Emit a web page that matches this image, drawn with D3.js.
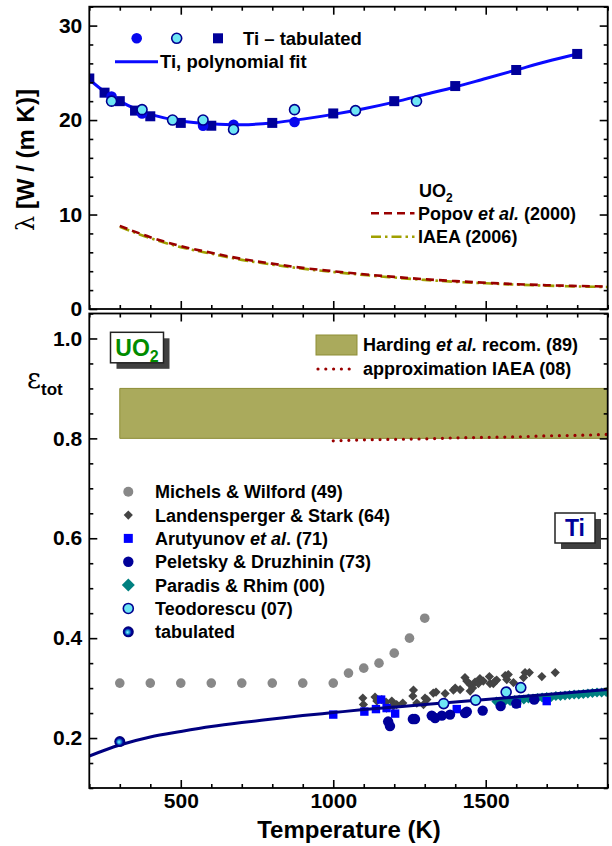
<!DOCTYPE html>
<html><head><meta charset="utf-8">
<script src="https://cdn.jsdelivr.net/npm/d3@7"></script>
<style>
body{margin:0;background:#fff}
svg{display:block}
text{font-family:"Liberation Sans",Arial,sans-serif;font-weight:bold;fill:#000}
</style>
</head><body>
<svg id="c" width="612" height="846"></svg>
<script>
// ---------- thermal conductivity panel ----------
const tiSqT   = [200,250,300,350,400,500,600,800,1000,1200,1400,1600,1800];
const tiSqLam = [24.4,22.9,22.0,21.0,20.4,19.7,19.4,19.7,20.7,22.0,23.6,25.3,27.0];
const tiFcT   = [273,373,573,673,873];
const tiFcLam = [22.5,20.7,19.4,19.5,19.8];
const tiOcT   = [273,373,473,573,673,873,1073,1273];
const tiOcLam = [22.0,21.1,20.0,20.0,19.0,21.1,21.0,22.0];
const tiFitT   = [200,250,300,350,400,500,600,700,800,900,1000,1100,1200,1300,1400,1500,1600,1700,1800];
const tiFitLam = [24.3,23.0,22.0,21.2,20.6,19.9,19.6,19.5,19.7,20.1,20.6,21.2,21.9,22.7,23.5,24.4,25.3,26.2,27.0];
const uo2T     = [300,400,500,600,700,800,900,1000,1100,1200,1300,1400,1500,1600,1700,1800,1900];
const popovLam = [8.8,7.6,6.65,5.95,5.3,4.8,4.35,4.0,3.68,3.4,3.15,2.95,2.78,2.63,2.52,2.44,2.38];
const iaeaLam  = [8.7,7.5,6.55,5.85,5.2,4.7,4.27,3.92,3.6,3.33,3.08,2.88,2.72,2.58,2.47,2.39,2.33];

// ---------- emissivity panel ----------
const hardT = [300,1900], hardLo = [0.8,0.8], hardHi = [0.9,0.9];
const iaeaEpsT = [1000,1100,1200,1300,1400,1500,1600,1700,1800,1900];
const iaeaEps  = [0.795,0.797,0.798,0.799,0.801,0.802,0.803,0.805,0.806,0.808];
const michT = [300,400,500,600,700,800,900,1000,1050,1100,1150,1200,1250,1300];
const michE = [0.31,0.31,0.31,0.31,0.31,0.31,0.31,0.31,0.33,0.34,0.35,0.37,0.40,0.44];
const landT = [1097,1099,1137,1143,1159,1173,1175,1192,1197,1208,1228,1261,1263,1274,1296,1301,1307,1328,1337,1367,1394,1400,1416,1432,1438,1449,1449,1457,1465,1476,1481,1492,1512,1514,1525,1531,1536,1564,1569,1574,1591,1624,1629,1643,1684,1728];
const landE = [0.280,0.267,0.282,0.274,0.277,0.272,0.260,0.274,0.264,0.267,0.270,0.284,0.296,0.270,0.267,0.280,0.277,0.290,0.292,0.289,0.296,0.300,0.297,0.321,0.314,0.307,0.294,0.300,0.312,0.309,0.319,0.314,0.323,0.309,0.309,0.314,0.316,0.325,0.317,0.327,0.311,0.321,0.331,0.331,0.323,0.331];
const aruT = [1000,1102,1140,1157,1175,1203,1405,1602,1700];
const aruE = [0.247,0.253,0.258,0.277,0.260,0.249,0.258,0.269,0.274];
const pelT = [1180,1186,1261,1268,1323,1334,1356,1383,1432,1438,1490,1549,1600,1659];
const pelE = [0.233,0.224,0.238,0.238,0.245,0.240,0.245,0.247,0.250,0.253,0.255,0.264,0.269,0.277];
const parT = [1535,1550,1565,1580,1595,1610,1625,1640,1655,1670,1685,1700,1715,1730,1745,1760,1775,1790,1805,1820,1835,1850,1865,1880,1895];
const parE = [0.273,0.272,0.275,0.274,0.276,0.277,0.277,0.279,0.279,0.280,0.281,0.282,0.282,0.284,0.284,0.285,0.286,0.287,0.287,0.288,0.289,0.290,0.291,0.291,0.292];
const teoT = [1362,1467,1567,1615];
const teoE = [0.269,0.276,0.292,0.301];
const tabT = [300], tabE = [0.193];
const fitEpsT = [200,300,400,500,600,700,800,900,1000,1100,1200,1300,1400,1500,1600,1700,1800,1900];
const fitEps  = [0.164,0.186,0.202,0.213,0.223,0.231,0.238,0.245,0.251,0.257,0.262,0.267,0.272,0.277,0.282,0.287,0.292,0.297];

const xTicksMajor = [500,1000,1500];
const xTicksMinor = [200,300,400,600,700,800,900,1100,1200,1300,1400,1600,1700,1800,1900];
const lamMajor = [0,10,20,30], lamMinor = [2,4,6,8,12,14,16,18,22,24,26,28,32];
const epsMajor = [0.2,0.4,0.6,0.8,1.0], epsMinor = [0.1,0.15,0.25,0.3,0.35,0.45,0.5,0.55,0.65,0.7,0.75,0.85,0.9,0.95,1.05];

const svg = d3.select("#c");
const defs = svg.append("defs");

const x = d3.scaleLinear([200,1900],[89.3,607.7]);
const yT = d3.scaleLinear([0,32],[309,6.7]);
const yB = d3.scaleLinear([0.1,1.05],[788,313.5]);
const L = x.range()[0], R = x.range()[1];

function clip(id, y){
  defs.append("clipPath").attr("id",id).append("rect")
    .attr("x",L).attr("y",y.range()[1]).attr("width",R-L).attr("height",y.range()[0]-y.range()[1]);
}
clip("clipT", yT); clip("clipB", yB);

const grad = defs.append("radialGradient").attr("id","sph").attr("cx","0.5").attr("cy","0.5").attr("r","0.55").attr("fx","0.42").attr("fy","0.55");
grad.append("stop").attr("offset","0").attr("stop-color","#8ff4ff");
grad.append("stop").attr("offset","0.3").attr("stop-color","#20a0d8");
grad.append("stop").attr("offset","0.6").attr("stop-color","#00009a");
grad.append("stop").attr("offset","1").attr("stop-color","#000060");

function zip(a,b){ return a.map((v,i)=>[v,b[i]]); }

function axes(y, major, minor, fmt, xLabels){
  const g = svg.append("g");
  const [y0,y1] = y.range();
  const hide = s => s.select(".domain").remove();
  const big = 8, small = 4;
  g.append("g").attr("transform",`translate(${L},0)`).call(d3.axisLeft(y).tickValues(major).tickSize(-big).tickPadding(7).tickFormat(fmt)).call(hide);
  g.append("g").attr("transform",`translate(${L},0)`).call(d3.axisLeft(y).tickValues(minor).tickSize(-small).tickFormat("")).call(hide);
  g.append("g").attr("transform",`translate(${R},0)`).call(d3.axisRight(y).tickValues(major).tickSize(-big).tickFormat("")).call(hide);
  g.append("g").attr("transform",`translate(${R},0)`).call(d3.axisRight(y).tickValues(minor).tickSize(-small).tickFormat("")).call(hide);
  g.append("g").attr("transform",`translate(0,${y1})`).call(d3.axisTop(x).tickValues(xTicksMajor).tickSize(-big).tickFormat("")).call(hide);
  g.append("g").attr("transform",`translate(0,${y1})`).call(d3.axisTop(x).tickValues(xTicksMinor).tickSize(-small).tickFormat("")).call(hide);
  g.append("g").attr("transform",`translate(0,${y0})`).call(d3.axisBottom(x).tickValues(xTicksMajor).tickSize(-big).tickPadding(5).tickFormat(xLabels ? d3.format("d") : "")).call(hide);
  g.append("g").attr("transform",`translate(0,${y0})`).call(d3.axisBottom(x).tickValues(xTicksMinor).tickSize(-small).tickFormat("")).call(hide);
  g.selectAll("line").attr("stroke","#000").attr("stroke-width",1.6);
  g.selectAll("text").attr("font-size",21).attr("font-family","Liberation Sans, Arial, sans-serif").attr("font-weight","bold").attr("fill","#000");
  svg.append("rect").attr("x",L).attr("y",y1).attr("width",R-L).attr("height",y0-y1)
    .attr("fill","none").attr("stroke","#000").attr("stroke-width",1.8);
}

// ===== top panel: thermal conductivity =====
const gT = svg.append("g").attr("clip-path","url(#clipT)");
const lineT = d3.line().x(d=>x(d[0])).y(d=>yT(d[1])).curve(d3.curveMonotoneX);
gT.append("path").datum(zip(uo2T,iaeaLam)).attr("d",lineT).attr("fill","none")
  .attr("stroke","#a0a000").attr("stroke-width",2.6).attr("stroke-dasharray","10,4,2.5,4");
gT.append("path").datum(zip(uo2T,popovLam)).attr("d",lineT).attr("fill","none")
  .attr("stroke","#990000").attr("stroke-width",2.6).attr("stroke-dasharray","8,5");
gT.append("path").datum(zip(tiFitT,tiFitLam)).attr("d",lineT.curve(d3.curveCatmullRom)).attr("fill","none")
  .attr("stroke","#0a0aff").attr("stroke-width",3);
gT.selectAll(".sq").data(zip(tiSqT,tiSqLam)).join("rect")
  .attr("x",d=>x(d[0])-5).attr("y",d=>yT(d[1])-5).attr("width",10).attr("height",10).attr("fill","#000099");
gT.selectAll(".fc").data(zip(tiFcT,tiFcLam)).join("circle")
  .attr("cx",d=>x(d[0])).attr("cy",d=>yT(d[1])).attr("r",5.3).attr("fill","#0808ee");
gT.selectAll(".oc").data(zip(tiOcT,tiOcLam)).join("circle")
  .attr("cx",d=>x(d[0])).attr("cy",d=>yT(d[1])).attr("r",5).attr("fill","#6ee6f4").attr("stroke","#000090").attr("stroke-width",1.6);

axes(yT, lamMajor, lamMinor, d3.format("d"), false);

// top legend
svg.append("circle").attr("cx",136.7).attr("cy",38.3).attr("r",5.3).attr("fill","#0808ee");
svg.append("circle").attr("cx",176.7).attr("cy",38.3).attr("r",5).attr("fill","#6ee6f4").attr("stroke","#000090").attr("stroke-width",1.6);
svg.append("rect").attr("x",213).attr("y",33.3).attr("width",10).attr("height",10).attr("fill","#000099");
svg.append("text").attr("x",243).attr("y",45).attr("font-size",18.5).text("Ti \u2013 tabulated");
svg.append("line").attr("x1",115).attr("x2",158).attr("y1",61.7).attr("y2",61.7).attr("stroke","#0a0aff").attr("stroke-width",3);
svg.append("text").attr("x",160).attr("y",68.3).attr("font-size",18.5).text("Ti, polynomial fit");

const uo2Leg = svg.append("text").attr("x",419).attr("y",197).attr("font-size",18);
uo2Leg.append("tspan").text("UO");
uo2Leg.append("tspan").attr("font-size",12).attr("dy",5).text("2");
svg.append("line").attr("x1",371).attr("x2",414.5).attr("y1",213.3).attr("y2",213.3).attr("stroke","#990000").attr("stroke-width",2.6).attr("stroke-dasharray","8,5");
const pop = svg.append("text").attr("x",418).attr("y",219.5).attr("font-size",18);
pop.append("tspan").text("Popov ");
pop.append("tspan").attr("font-style","italic").text("et al.");
pop.append("tspan").text(" (2000)");
svg.append("line").attr("x1",371).attr("x2",414.5).attr("y1",236.7).attr("y2",236.7).attr("stroke","#a0a000").attr("stroke-width",2.6).attr("stroke-dasharray","10,4,2.5,4");
svg.append("text").attr("x",418).attr("y",243).attr("font-size",18).text("IAEA (2006)");

// y label, top
const yl = svg.append("text").attr("transform","translate(34,160) rotate(-90)").attr("text-anchor","middle").attr("font-size",24);
yl.append("tspan").attr("font-family","DejaVu Serif, serif").attr("font-weight","normal").text("\u03bb");
yl.append("tspan").text(" [W / (m K)]");

// ===== bottom panel: total emissivity =====
const gB = svg.append("g").attr("clip-path","url(#clipB)");
const area = d3.area().x(d=>x(d[0])).y0(d=>yB(d[1])).y1(d=>yB(d[2]));
gB.append("path").datum(hardT.map((t,i)=>[t,hardLo[i],hardHi[i]])).attr("d",area)
  .attr("fill","#aaaa5c").attr("stroke","#8d8d35").attr("stroke-width",1);
const lineB = d3.line().x(d=>x(d[0])).y(d=>yB(d[1])).curve(d3.curveMonotoneX);
gB.append("path").datum(zip(iaeaEpsT,iaeaEps)).attr("d",lineB).attr("fill","none")
  .attr("stroke","#990000").attr("stroke-width",3.2).attr("stroke-linecap","round").attr("stroke-dasharray","0,7.8");

gB.selectAll(".mi").data(zip(michT,michE)).join("circle")
  .attr("cx",d=>x(d[0])).attr("cy",d=>yB(d[1])).attr("r",4.8).attr("fill","#888888");
const diamond = (s)=>`M0,${-s}L${s},0L0,${s}L${-s},0Z`;
gB.selectAll(".la").data(zip(landT,landE)).join("path")
  .attr("transform",d=>`translate(${x(d[0])},${yB(d[1])})`).attr("d",diamond(4.6)).attr("fill","#444444");
gB.selectAll(".pa").data(zip(parT,parE)).join("path")
  .attr("transform",d=>`translate(${x(d[0])},${yB(d[1])})`).attr("d",diamond(5)).attr("fill","#008080");
gB.selectAll(".ar").data(zip(aruT,aruE)).join("rect")
  .attr("x",d=>x(d[0])-4.2).attr("y",d=>yB(d[1])-4.2).attr("width",8.4).attr("height",8.4).attr("fill","#0000ff");
gB.selectAll(".pe").data(zip(pelT,pelE)).join("circle")
  .attr("cx",d=>x(d[0])).attr("cy",d=>yB(d[1])).attr("r",5.2).attr("fill","#000099");
gB.append("path").datum(zip(fitEpsT,fitEps)).attr("d",lineB.curve(d3.curveCatmullRom)).attr("fill","none")
  .attr("stroke","#000080").attr("stroke-width",3);
gB.selectAll(".te").data(zip(teoT,teoE)).join("circle")
  .attr("cx",d=>x(d[0])).attr("cy",d=>yB(d[1])).attr("r",5).attr("fill","#6ee6f4").attr("stroke","#000090").attr("stroke-width",1.6);
gB.selectAll(".tb").data(zip(tabT,tabE)).join("circle")
  .attr("cx",d=>x(d[0])).attr("cy",d=>yB(d[1])).attr("r",5.5).attr("fill","url(#sph)");

axes(yB, epsMajor, epsMinor, d3.format(".1f"), true);

// x label
svg.append("text").attr("x",349).attr("y",838).attr("text-anchor","middle").attr("font-size",24).text("Temperature (K)");

// y label, bottom
const el = svg.append("text").attr("x",27).attr("y",388).attr("font-size",27);
el.append("tspan").attr("font-family","DejaVu Serif, serif").attr("font-weight","normal").text("\u03b5");
el.append("tspan").attr("font-size",17).attr("dy",7).text("tot");

// material tags
function tag(x0,y0,w,h,label,sub,color){
  svg.append("rect").attr("x",x0+6).attr("y",y0+6).attr("width",w).attr("height",h).attr("fill","#404040");
  svg.append("rect").attr("x",x0).attr("y",y0).attr("width",w).attr("height",h).attr("fill","#fff").attr("stroke","#222").attr("stroke-width",1.5);
  const t = svg.append("text").attr("x",x0+w/2).attr("y",y0+h/2+8).attr("text-anchor","middle").attr("font-size",23).style("fill",color);
  t.append("tspan").text(label);
  if(sub) t.append("tspan").attr("font-size",16).attr("dy",6).text(sub);
}
tag(110.5,332.3,53,30.5,"UO","2","#008c00");
tag(555,513,40,30,"Ti",null,"#000099");

// bottom legends
svg.append("rect").attr("x",316).attr("y",335).attr("width",41).attr("height",20).attr("fill","#aaaa5c").attr("stroke","#8d8d35");
const hd = svg.append("text").attr("x",363).attr("y",351).attr("font-size",18);
hd.append("tspan").text("Harding ");
hd.append("tspan").attr("font-style","italic").text("et al.");
hd.append("tspan").text(" recom. (89)");
svg.append("line").attr("x1",318).attr("x2",357).attr("y1",369).attr("y2",369)
  .attr("stroke","#990000").attr("stroke-width",3.2).attr("stroke-linecap","round").attr("stroke-dasharray","0,7.8");
svg.append("text").attr("x",363).attr("y",375).attr("font-size",18).text("approximation IAEA (08)");

const lx = 128.3, ly0 = 491.7, ldy = 23.35;
const leg = svg.append("g");
leg.append("circle").attr("cx",lx).attr("cy",ly0).attr("r",5).attr("fill","#888888");
leg.append("path").attr("transform",`translate(${lx},${ly0+ldy})`).attr("d",diamond(4.6)).attr("fill","#444444");
leg.append("rect").attr("x",lx-4.5).attr("y",ly0+2*ldy-4.5).attr("width",9).attr("height",9).attr("fill","#0000ff");
leg.append("circle").attr("cx",lx).attr("cy",ly0+3*ldy).attr("r",5.2).attr("fill","#000099");
leg.append("path").attr("transform",`translate(${lx},${ly0+4*ldy})`).attr("d",diamond(6.5)).attr("fill","#008080");
leg.append("circle").attr("cx",lx).attr("cy",ly0+5*ldy).attr("r",5).attr("fill","#6ee6f4").attr("stroke","#000090").attr("stroke-width",1.6);
leg.append("circle").attr("cx",lx).attr("cy",ly0+6*ldy).attr("r",5.5).attr("fill","url(#sph)");
const names = [["Michels & Wilford (49)"],["Landensperger & Stark (64)"],["Arutyunov ","et al.",". (71)"],["Peletsky & Druzhinin (73)"],["Paradis & Rhim (00)"],["Teodorescu (07)"],["tabulated"]];
names.forEach((n,i)=>{
  const t = leg.append("text").attr("x",155).attr("y",ly0+i*ldy+6.5).attr("font-size",18);
  t.append("tspan").text(n[0]);
  if(n.length>1){ t.append("tspan").attr("font-style","italic").text("et al"); t.append("tspan").text(". (71)"); }
});
</script>
</body></html>
